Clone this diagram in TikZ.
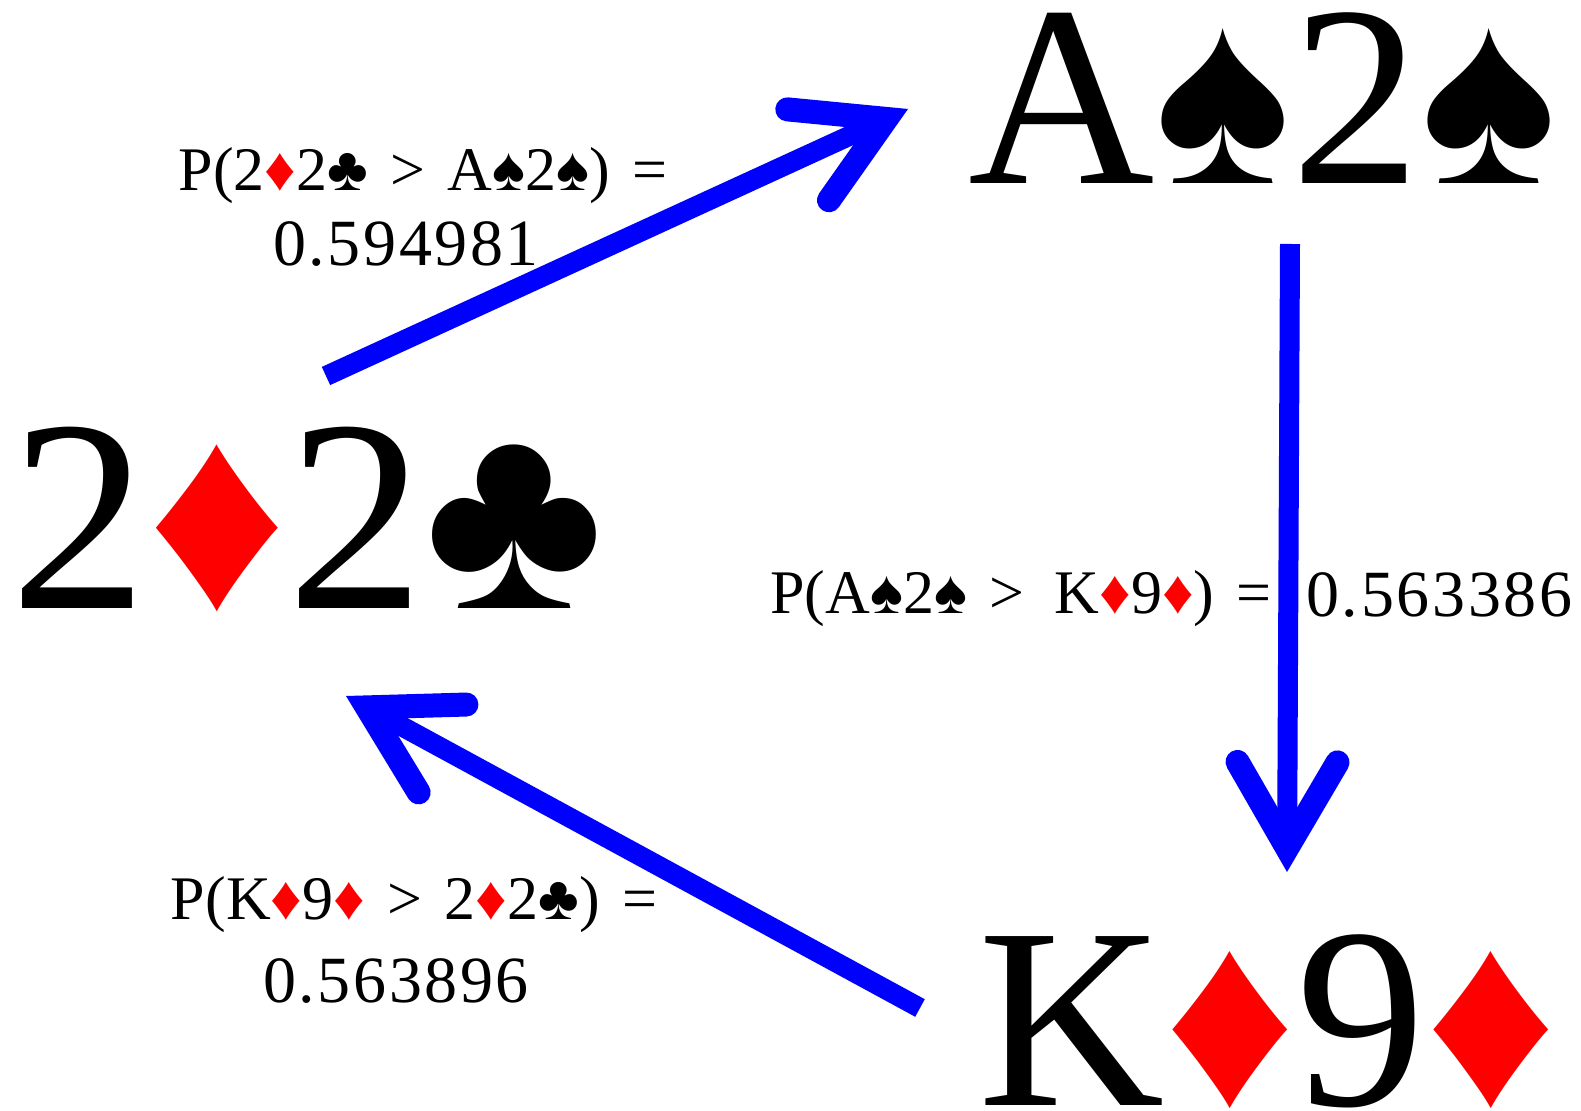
\documentclass[tikz,border=0pt]{standalone}
\usepackage{xcolor}
\usepackage{fontspec}
\setmainfont{Liberation Serif}
\newfontfamily\numfont[LetterSpace=4]{Liberation Serif}
\usepackage{tikz}
\usetikzlibrary{arrows.meta}
\definecolor{flow}{HTML}{0000FF}
\definecolor{suitred}{HTML}{FF0000}
\tikzset{
  hand/.style={inner sep=0pt,anchor=base west,font=\fontsize{129}{129}\selectfont},
  lbl/.style={inner sep=0pt,anchor=base,font=\fontsize{31}{31}\selectfont},
  num/.style={inner sep=0pt,anchor=base,font=\numfont\fontsize{33}{33}\selectfont},
  ar/.style={-{Straight Barb[length=43pt,width=50pt,line width=12pt 0,line cap=round,line join=miter]},line width=10pt,draw=flow},
}
\newcommand{\dm}{\textcolor{suitred}{♦}}
\newcommand{\sd}{♠}
\newcommand{\cb}{♣}
\newcommand{\gap}{\hspace{0.36em}}
\begin{document}
\begin{tikzpicture}[x=0.5pt,y=-0.5pt]
  \useasboundingbox (0,0) rectangle (1581,1111);
  \node[hand] (as) at (968,184) {A\sd 2\sd};
  \node[hand,font=\fontsize{137}{137}\selectfont] (dc) at (10,609) {2\dm 2\cb};
  \node[hand] (kn) at (978,1106) {K\dm 9\dm};
  \node[lbl] (lone) at (423,191) {P(2\dm 2\cb\gap>\gap A\sd 2\sd)\gap=};
  \node[num] (ltwo) at (406,266) {0.594981};
  \node[lbl,anchor=base west] (mone) at (770,614) {P(A\sd 2\sd\gap>\gap\hspace{4pt}K\dm 9\dm)\gap=};
  \node[num,anchor=base west] (mtwo) at (1306,617) {0.563386};
  \node[lbl] (bone) at (414,920) {P(K\dm 9\dm\gap>\gap 2\dm 2\cb)\gap=};
  \node[num] (btwo) at (396,1003) {0.563896};
  \coordinate (dcout) at (326,376);
  \coordinate (asin) at (908,109);
  \coordinate (asout) at (1290,244);
  \coordinate (knin) at (1287,872);
  \coordinate (knout) at (920,1008);
  \coordinate (dcin) at (346,696);
  \draw[ar] (dcout) -- (asin);
  \draw[ar] (asout) -- (knin);
  \draw[ar] (knout) -- (dcin);
\end{tikzpicture}
\end{document}
